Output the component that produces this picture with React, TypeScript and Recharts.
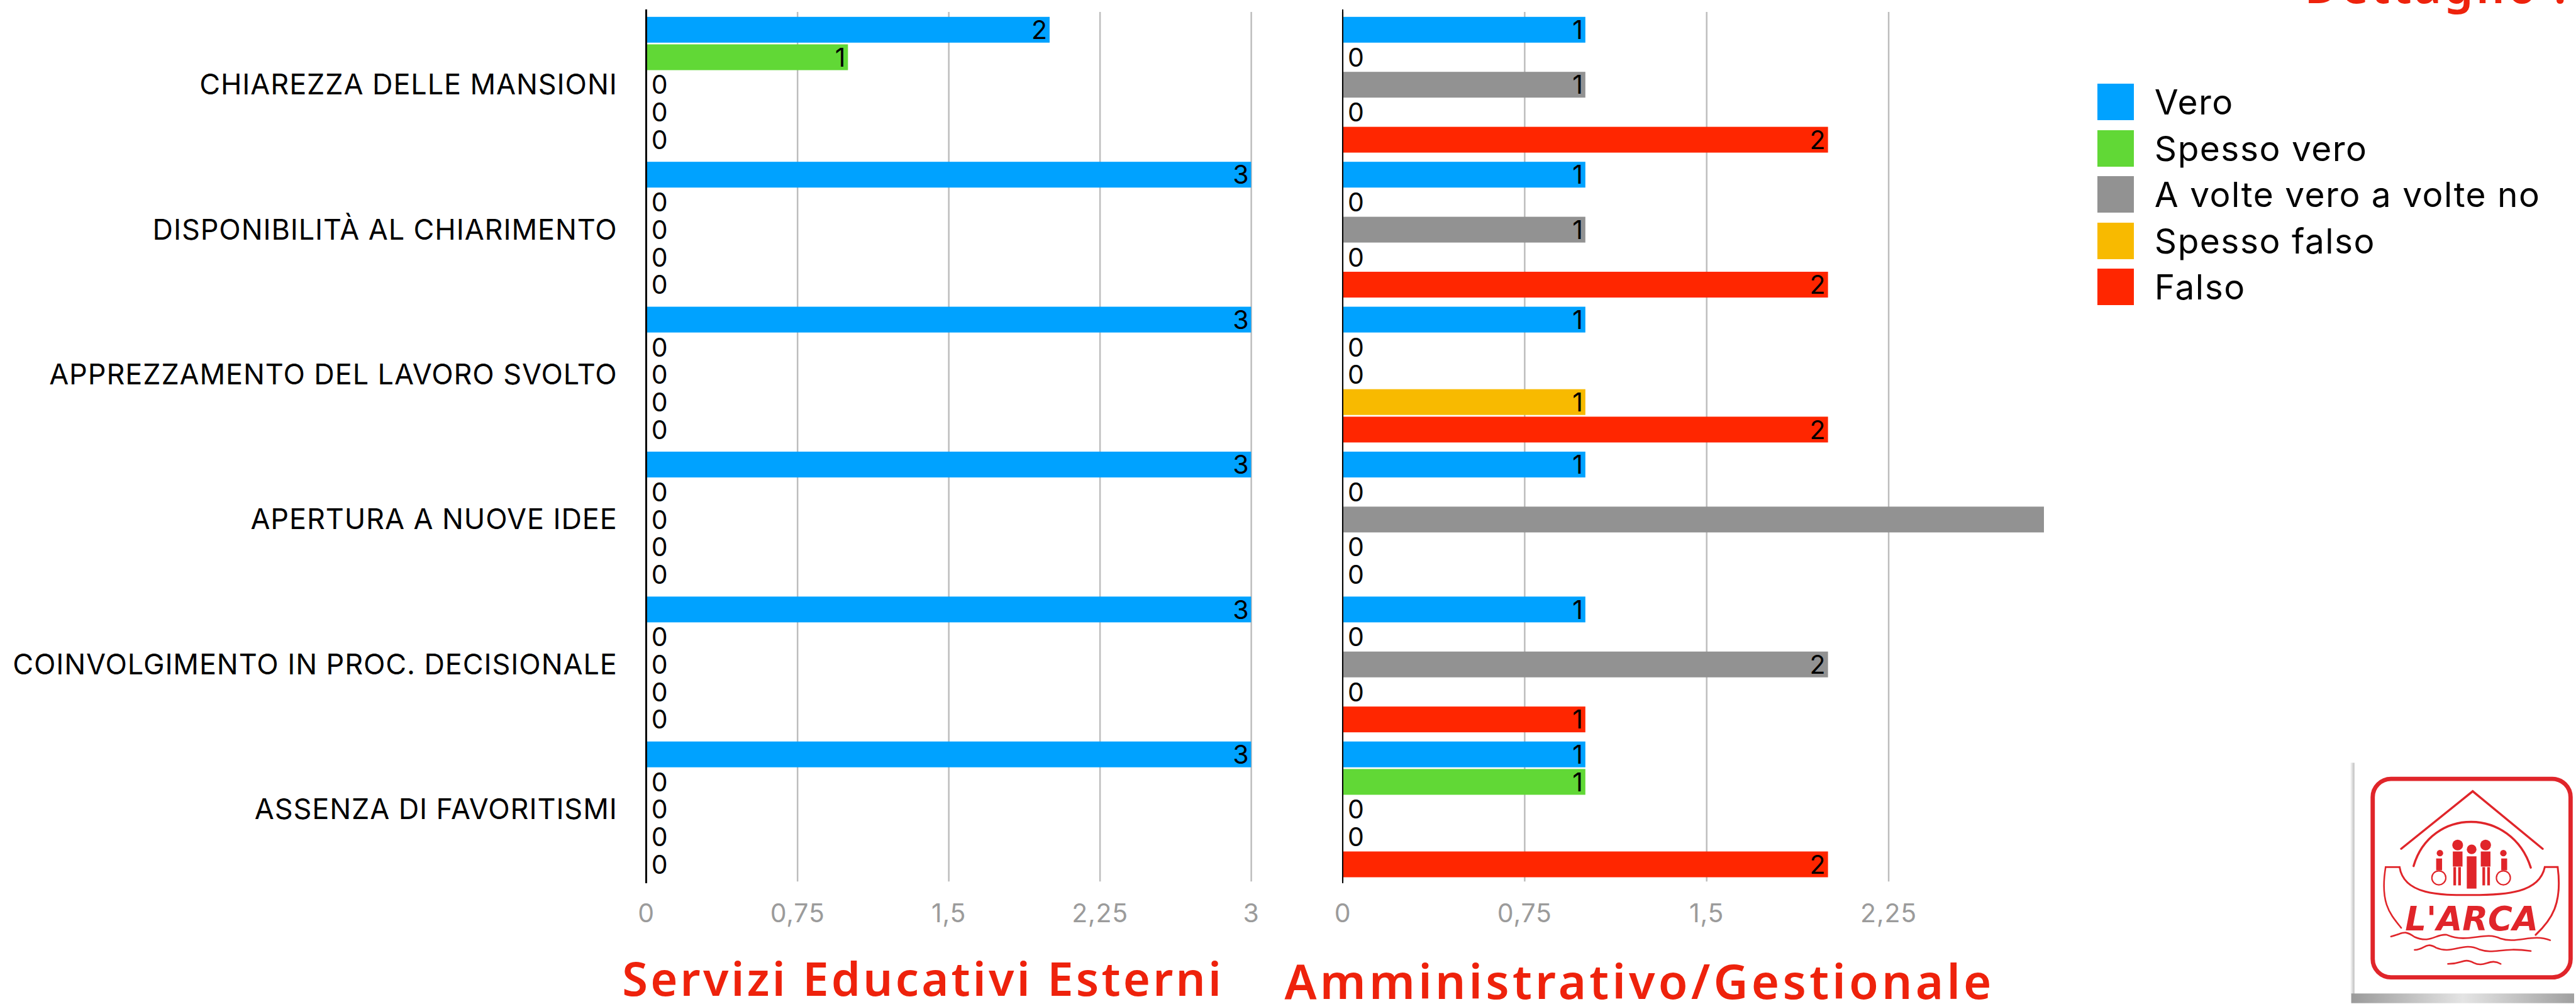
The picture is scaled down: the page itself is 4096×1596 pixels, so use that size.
import React from 'react'
import { Bar, BarChart, CartesianGrid, XAxis, YAxis } from 'recharts'

const S = 0.855
const FONT = 'Inter, sans-serif'
const TITLE_FONT = '"Noto Sans", sans-serif'

const categories = [
    'CHIAREZZA DELLE MANSIONI',
    'DISPONIBILITÀ AL CHIARIMENTO',
    'APPREZZAMENTO DEL LAVORO SVOLTO',
    'APERTURA A NUOVE IDEE',
    'COINVOLGIMENTO IN PROC. DECISIONALE',
    'ASSENZA DI FAVORITISMI',
]

const seriesNames = ['Vero', 'Spesso vero', 'A volte vero a volte no', 'Spesso falso', 'Falso']
const seriesColors = ['#00A2FF', '#61D836', '#929292', '#F8BA00', '#FF2600']

// Servizi Educativi Esterni
const leftVero = [2, 3, 3, 3, 3, 3]
const leftSpessoVero = [1, 0, 0, 0, 0, 0]
const leftAVolte = [0, 0, 0, 0, 0, 0]
const leftSpessoFalso = [0, 0, 0, 0, 0, 0]
const leftFalso = [0, 0, 0, 0, 0, 0]

// Amministrativo/Gestionale
const rightVero = [1, 1, 1, 1, 1, 1]
const rightSpessoVero = [0, 0, 0, 0, 0, 1]
const rightAVolte = [1, 1, 0, 3, 2, 0]
const rightSpessoFalso = [0, 0, 1, 0, 0, 0]
const rightFalso = [2, 2, 2, 0, 1, 2]

const leftTicks = [0, 0.75, 1.5, 2.25, 3]
const rightTicks = [0, 0.75, 1.5, 2.25]
const leftMax = 3
const rightMax = 2.89

const buildRows = (columns: number[][]) =>
    categories.map((name, i) => {
        const row: Record<string, string | number> = { name }
        seriesNames.forEach((s, j) => {
            row[s] = columns[j][i]
        })
        return row
    })

const leftData = buildRows([leftVero, leftSpessoVero, leftAVolte, leftSpessoFalso, leftFalso])
const rightData = buildRows([rightVero, rightSpessoVero, rightAVolte, rightSpessoFalso, rightFalso])

const formatTick = (v: number) => String(v).replace('.', ',')

// draws the bar and its value, the reference also prints the zeros
const barShape = (name: string, max: number) => (props: any) => {
    const { x, y, width, height, fill, payload } = props
    const value = payload[name]
    const zero = value === 0
    return (
        <g>
            {!zero && <rect x={x} y={y} width={width} height={height} fill={fill} />}
            {value <= max && (
                <text
                    x={zero ? x + 8 : x + width - 4}
                    y={y + height / 2}
                    dy="0.36em"
                    textAnchor={zero ? 'start' : 'end'}
                    fontFamily={FONT}
                    fontSize={41}
                    fill="#000"
                >
                    {value}
                </text>
            )}
        </g>
    )
}

const Panel = ({ data, ticks, max, left, width, plotLeft, marginRight, showNames }: any) => (
    <div style={{ position: 'absolute', left, top: 0 }}>
        <BarChart
            width={width}
            height={1596}
            data={data}
            layout="vertical"
            barCategoryGap={7.8}
            barGap={2.7}
            margin={{ top: 19, right: marginRight, bottom: 0, left: showNames ? 0 : plotLeft }}
        >
            <CartesianGrid horizontal={false} stroke="#BDBDBD" strokeWidth={2.5} syncWithTicks />
            <XAxis
                type="number"
                domain={[0, max]}
                ticks={ticks}
                interval={0}
                allowDataOverflow
                axisLine={false}
                tickLine={false}
                tickSize={0}
                tickMargin={36}
                height={194.7}
                tickFormatter={formatTick}
                tick={{ fontFamily: FONT, fontSize: 41, fill: '#9B9B9B', letterSpacing: 0.8 }}
            />
            <YAxis
                type="category"
                dataKey="name"
                width={showNames ? plotLeft : 0}
                interval={0}
                axisLine={{ stroke: '#000', strokeWidth: 2.5 }}
                tickLine={false}
                tickSize={0}
                tickMargin={46}
                tick={showNames ? { fontFamily: FONT, fontSize: 45, fill: '#000', letterSpacing: 0.9 } : false}
            />
            {seriesNames.map((s, i) => (
                <Bar key={s} dataKey={s} fill={seriesColors[i]} isAnimationActive={false} shape={barShape(s, max)} />
            ))}
        </BarChart>
    </div>
)

const Legend = () => (
    <div style={{ position: 'absolute', left: 3901 * S, top: 156 * S, fontFamily: FONT }}>
        {seriesNames.map((s, i) => (
            <div key={s} style={{ display: 'flex', alignItems: 'center', height: 58, marginBottom: 15.5 }}>
                <div style={{ width: 57.5, height: 58, background: seriesColors[i] }} />
                <span style={{ marginLeft: 33, fontSize: 55, letterSpacing: 1.5, color: '#000', whiteSpace: 'nowrap' }}>{s}</span>
            </div>
        ))}
    </div>
)

const titleStyle: React.CSSProperties = {
    position: 'absolute',
    fontFamily: TITLE_FONT,
    fontWeight: 600,
    fontSize: 74,
    color: '#EE220C',
    whiteSpace: 'nowrap',
    lineHeight: 1,
}

// the vertical axes stick out a little past the gridlines
const axisCap = (left: number): React.CSSProperties => ({
    position: 'absolute',
    left,
    top: 15.4,
    width: 2.5,
    height: 1388.6,
    background: '#000',
})

// logo in reference pixels, scaled as a whole
const Logo = () => (
    <svg
        viewBox="4300 1380 487 485"
        width={487 * S}
        height={485 * S}
        style={{ position: 'absolute', left: 4300 * S, top: 1380 * S }}
    >
        <defs>
            <linearGradient id="shade" x1="0" x2="1" y1="0" y2="0">
                <stop offset="0" stopColor="#9A9A9A" />
                <stop offset="0.5" stopColor="#E4E4E4" />
                <stop offset="1" stopColor="#A0A0A0" />
            </linearGradient>
            <linearGradient id="edge" x1="0" x2="1" y1="0" y2="0">
                <stop offset="0" stopColor="#FFFFFF" />
                <stop offset="1" stopColor="#BDBDBD" />
            </linearGradient>
        </defs>
        <rect x="4370" y="1418" width="8" height="430" fill="url(#edge)" />
        <rect x="4372" y="1847" width="415" height="18" fill="url(#shade)" />
        <g fill="none" stroke="#E0252A" strokeLinecap="round">
            <rect x="4412" y="1448" width="368" height="369" rx="34" strokeWidth="8" />
            <path d="M4465 1578 L4598 1471 L4728 1578" strokeWidth="4" />
            <path d="M4488 1610 C4520 1500 4670 1500 4706 1613" strokeWidth="4" />
            <path d="M4462 1612 H4436 C4425 1680 4445 1700 4465 1725" strokeWidth="3" />
            <path d="M4462 1612 C4470 1665 4540 1664 4596 1664 C4660 1664 4722 1660 4732 1612 H4756 C4765 1680 4745 1710 4715 1738" strokeWidth="3.5" />
            <path d="M4446 1741 C4470 1735 4470 1728 4490 1742 C4520 1755 4530 1735 4550 1738 C4590 1755 4620 1730 4650 1745 C4680 1755 4710 1735 4742 1748" strokeWidth="3" />
            <path d="M4490 1766 C4510 1765 4510 1750 4530 1762 C4560 1775 4580 1750 4610 1765 C4640 1775 4650 1760 4706 1768" strokeWidth="3" />
            <path d="M4552 1792 C4580 1792 4580 1780 4600 1790 C4620 1800 4630 1780 4650 1792" strokeWidth="3" />
            <circle cx="4535" cy="1632" r="13" strokeWidth="2.5" />
            <circle cx="4655" cy="1632" r="13" strokeWidth="2.5" />
        </g>
        <g fill="#E0252A">
            <circle cx="4570" cy="1571" r="10" />
            <circle cx="4596" cy="1579" r="9" />
            <circle cx="4622" cy="1571" r="10" />
            <circle cx="4537" cy="1586" r="6" />
            <circle cx="4655" cy="1586" r="6" />
            <rect x="4587" y="1592" width="18" height="60" />
            <rect x="4561" y="1583" width="18" height="28" />
            <rect x="4613" y="1583" width="18" height="28" />
            <rect x="4530" y="1596" width="11" height="22" />
            <rect x="4651" y="1596" width="11" height="22" />
            <rect x="4562" y="1612" width="5" height="34" />
            <rect x="4571" y="1612" width="5" height="34" />
            <rect x="4616" y="1612" width="5" height="34" />
            <rect x="4625" y="1612" width="5" height="34" />
            <text
                x="4596"
                y="1730"
                textAnchor="middle"
                fontFamily="'DejaVu Sans', sans-serif"
                fontStyle="italic"
                fontWeight="700"
                fontSize="62"
            >
                L'ARCA
            </text>
        </g>
    </svg>
)

const App = () => {
    return (
        <div style={{ position: 'absolute', left: 0, top: 0, width: 4096, height: 1596, overflow: 'hidden', background: '#fff' }}>
            <Panel data={leftData} ticks={leftTicks} max={leftMax} left={0} width={2060} marginRight={70.4} plotLeft={1027.7} showNames />
            <Panel data={rightData} ticks={rightTicks} max={rightMax} left={2050} width={1200} marginRight={0} plotLeft={85} />
            <div style={axisCap(1026.4)} />
            <div style={axisCap(2133.7)} />
            <Legend />
            <div style={{ ...titleStyle, left: 1157 * S, top: 1518, letterSpacing: 4.2 }}>Servizi Educativi Esterni</div>
            <div style={{ ...titleStyle, left: 2389 * S, top: 1521, fontSize: 76, letterSpacing: 5.2 }}>Amministrativo/Gestionale</div>
            <div style={{ ...titleStyle, left: 4286 * S, top: -60, letterSpacing: 4.2 }}>Dettaglio :</div>
            <Logo />
        </div>
    )
}

export default App
